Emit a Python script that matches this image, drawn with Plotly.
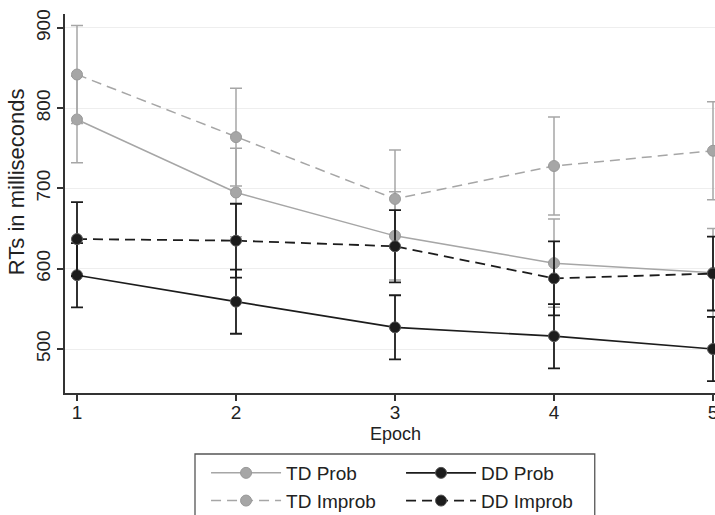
import plotly.graph_objects as go

epochs = [1, 2, 3, 4, 5]
x_tick_labels = ["1", "2", "3", "4", "5"]
y_tick_values = [500, 600, 700, 800, 900]

td_prob = [786, 695, 641, 607, 595]
td_prob_err = [54, 55, 55, 55, 55]
td_improb = [842, 764, 687, 728, 747]
td_improb_err = [61, 61, 61, 61, 61]
dd_prob = [592, 559, 527, 516, 500]
dd_prob_err = [40, 40, 40, 40, 40]
dd_improb = [637, 635, 628, 588, 594]
dd_improb_err = [46, 46, 45, 46, 46]

GRAY = "#a6a6a6"
BLACK = "#1c1c1c"
FONT = "Liberation Sans"

fig = go.Figure()

def add(name, y, err, color, dash, lw, ew, legend, mline):
    fig.add_trace(go.Scatter(
        x=epochs, y=y, name=name, mode="lines+markers",
        line=dict(color=color, width=lw, dash=dash),
        marker=dict(color=color, size=11, line=dict(color=mline, width=1)),
        error_y=dict(type="data", array=err, visible=True, color=color,
                     thickness=ew, width=6),
        legend=legend, cliponaxis=False,
    ))

add("TD Prob", td_prob, td_prob_err, GRAY, "solid", 1.5, 1.5, "legend", "#999999")
add("TD Improb", td_improb, td_improb_err, GRAY, "10px,6px", 1.5, 1.5, "legend", "#999999")
add("DD Prob", dd_prob, dd_prob_err, BLACK, "solid", 1.6, 1.8, "legend2", "#555555")
add("DD Improb", dd_improb, dd_improb_err, BLACK, "10px,6px", 1.8, 1.8, "legend2", "#555555")

legend_common = dict(orientation="v", xanchor="left", yanchor="top",
                     font=dict(family=FONT, size=19, color="#222222"),
                     bgcolor="rgba(0,0,0,0)", borderwidth=0,
                     itemwidth=70, tracegroupgap=0)

fig.update_layout(
    width=715, height=515,
    margin=dict(l=65, r=0, t=14, b=122, autoexpand=False),
    paper_bgcolor="white", plot_bgcolor="white",
    font=dict(family=FONT, size=19, color="#222222"),
    showlegend=True,
    legend=dict(x=0.217, y=-0.161, **legend_common),
    legend2=dict(x=0.517, y=-0.161, **legend_common),
    xaxis=dict(
        range=[0.9245, 5.0126], tickvals=epochs, ticktext=x_tick_labels,
        showgrid=False, zeroline=False, automargin=False,
        ticklabeloverflow="allow", ticklabelstandoff=-5,
        showline=True, linecolor="#333333", linewidth=1.5,
        ticks="outside", ticklen=6, tickwidth=2, tickcolor="#333333",
        tickfont=dict(size=19),
    ),
    yaxis=dict(
        range=[445.2, 917.4], tickvals=y_tick_values,
        showgrid=True, gridcolor="#eeeeee", gridwidth=1.2,
        zeroline=False, automargin=False,
        showline=True, linecolor="#333333", linewidth=1.5,
        ticks="outside", ticklen=6, tickwidth=2, tickcolor="#333333",
        tickangle=-90, tickfont=dict(size=19),
    ),
    annotations=[
        dict(text="Epoch", xref="paper", yref="paper", x=0.509, y=-0.109,
             xanchor="center", yanchor="middle", showarrow=False,
             font=dict(family=FONT, size=18, color="#222222")),
        dict(text="RTs in milliseconds", xref="paper", yref="paper",
             x=-0.0754, y=0.559, textangle=-90,
             xanchor="center", yanchor="middle", showarrow=False,
             font=dict(family=FONT, size=22, color="#222222")),
    ],
    shapes=[dict(type="rect", xref="paper", yref="paper",
                 x0=0.2, x1=0.815, y0=-0.161, y1=-0.37,
                 line=dict(color="#555555", width=1.3), fillcolor="rgba(0,0,0,0)")],
)

post = (
    "document.documentElement.style.overflow='hidden';"
    "document.body.style.margin='0';"
    "document.body.style.overflow='hidden';"
    "document.querySelectorAll('.plotly-graph-div').forEach(function(d){"
    "d.style.overflow='hidden';});"
)

fig.write_html("out.html", config={"displayModeBar": False}, post_script=post)
